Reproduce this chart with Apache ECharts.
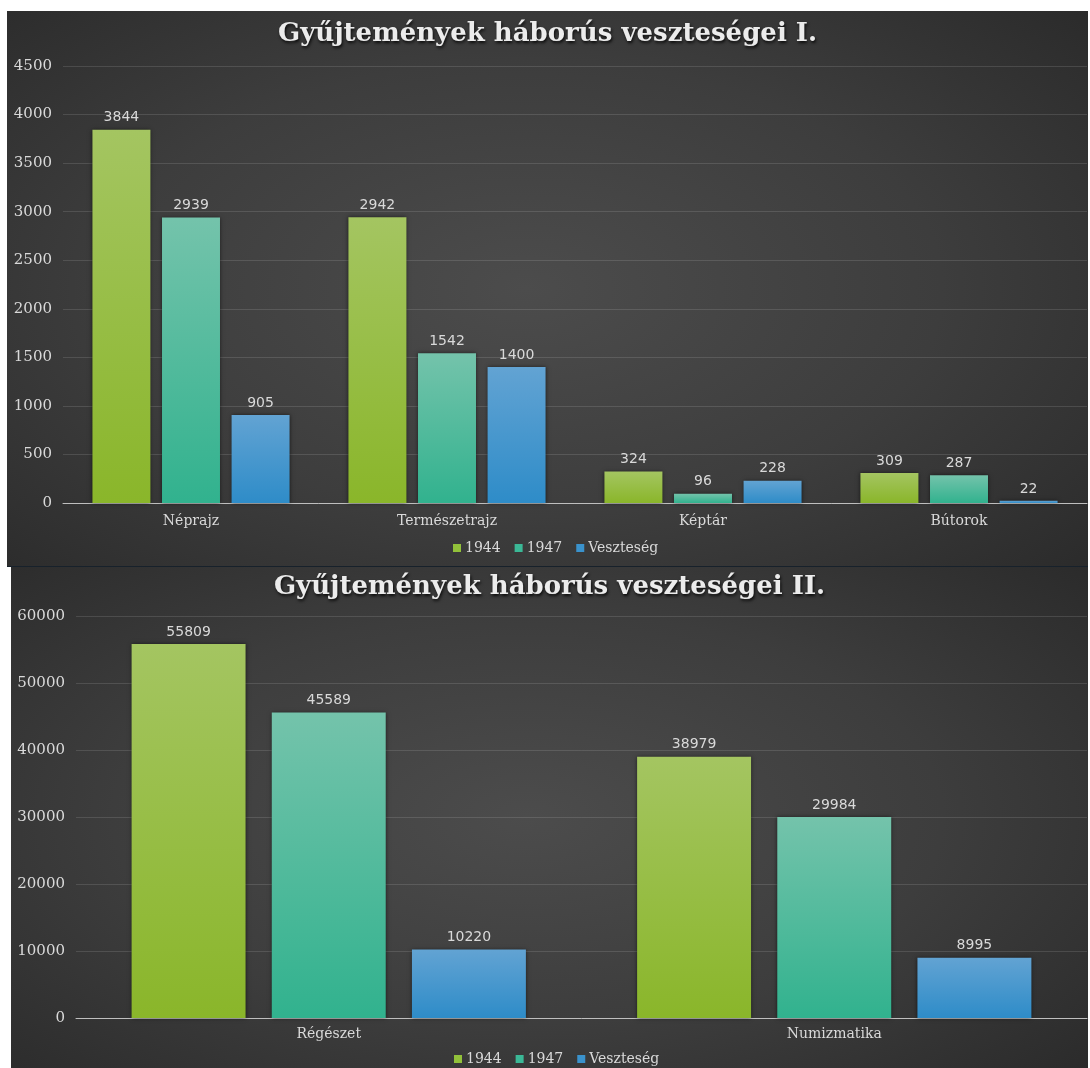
<!DOCTYPE html>
<html>
<head>
<meta charset="utf-8">
<script src="https://cdn.jsdelivr.net/npm/echarts@6/dist/echarts.min.js"></script>
<style>
  html, body { margin: 0; padding: 0; background: #ffffff; width: 1090px; height: 1068px; overflow: hidden; }
  .panel { position: absolute; background: radial-gradient(ellipse 70% 75% at 48% 50%, #4c4c4c 0%, #3d3d3d 55%, #2b2b2b 100%); }
  #c1 { left: 7px; top: 11px; width: 1081px; height: 555px; }
  #sep { position: absolute; left: 7px; top: 566px; width: 1081px; height: 1px; background: #17212b; }
  #c2 { left: 11px; top: 567px; width: 1077px; height: 501px; }
</style>
</head>
<body>
<div id="c1" class="panel"></div>
<div id="sep"></div>
<div id="c2" class="panel"></div>
<script>
// ---- Data ----
var title1 = 'Gyűjtemények háborús veszteségei I.';
var title2 = 'Gyűjtemények háborús veszteségei II.';
var seriesNames = ['1944', '1947', 'Veszteség'];

var categories1 = ['Néprajz', 'Természetrajz', 'Képtár', 'Bútorok'];
var values1944_1 = [3844, 2942, 324, 309];
var values1947_1 = [2939, 1542, 96, 287];
var valuesLoss_1 = [905, 1400, 228, 22];

var categories2 = ['Régészet', 'Numizmatika'];
var values1944_2 = [55809, 38979];
var values1947_2 = [45589, 29984];
var valuesLoss_2 = [10220, 8995];

// ---- Styles ----
var textColor = '#d9d9d9';
var serif = 'DejaVu Serif';
var gradients = [
  ['#a4c561', '#8ab62a'],
  ['#74c3ab', '#31b28e'],
  ['#62a3d3', '#2e8cc8']
];
var legendColors = ['#92c13a', '#3bb896', '#3a92cc'];

function grad(i) {
  return new echarts.graphic.LinearGradient(0, 0, 0, 1, [
    { offset: 0, color: gradients[i][0] },
    { offset: 1, color: gradients[i][1] }
  ]);
}

function makeSeries(arrs, barGap, catGap) {
  return arrs.map(function (arr, i) {
    return {
      name: seriesNames[i],
      type: 'bar',
      data: arr,
      barGap: barGap,
      barCategoryGap: catGap,
      itemStyle: {
        color: grad(i),
        shadowColor: 'rgba(0,0,0,0.55)',
        shadowBlur: 4
      },
      label: {
        show: true,
        position: 'top',
        distance: 5,
        color: textColor,
        fontFamily: 'DejaVu Sans',
        fontSize: 14
      }
    };
  });
}

function makeOption(cfg) {
  return {
    backgroundColor: 'transparent',
    animation: false,
    title: {
      text: cfg.title,
      left: 'center',
      top: cfg.titleTop,
      padding: 0,
      textStyle: {
        color: '#ececec',
        fontFamily: serif,
        fontWeight: 'bold',
        fontSize: 26,
        textShadowColor: 'rgba(0,0,0,0.8)',
        textShadowBlur: 3,
        textShadowOffsetX: 1,
        textShadowOffsetY: 2
      }
    },
    legend: {
      data: seriesNames.map(function (n, i) { return { name: n, itemStyle: { color: legendColors[i] } }; }),
      left: cfg.legendLeft,
      top: cfg.legendTop,
      padding: 0,
      icon: 'rect',
      itemWidth: 8,
      itemHeight: 8,
      itemGap: 14,
      textStyle: { color: textColor, fontFamily: serif, fontSize: 14, padding: [0, 0, 0, -1] }
    },
    grid: { left: cfg.grid[0], top: cfg.grid[1], right: cfg.grid[2], bottom: cfg.grid[3], containLabel: false },
    xAxis: {
      type: 'category',
      data: cfg.categories,
      axisLine: { lineStyle: { color: '#bfbfbf', width: 1 } },
      axisTick: { show: false },
      axisLabel: { color: textColor, fontFamily: serif, fontSize: 14, margin: cfg.labelMargin }
    },
    yAxis: {
      type: 'value',
      min: 0,
      max: cfg.max,
      interval: cfg.interval,
      axisLine: { show: false },
      axisTick: { show: false },
      axisLabel: {
        color: textColor, fontFamily: serif, fontSize: 15, margin: 11,
        formatter: function (v) { return String(v); }
      },
      splitLine: { lineStyle: { color: 'rgba(255,255,255,0.12)', width: 1 } }
    },
    series: makeSeries(cfg.values, cfg.barGap, cfg.catGap)
  };
}

var chart1 = echarts.init(document.getElementById('c1'));
chart1.setOption(makeOption({
  title: title1, titleTop: 10,
  legendLeft: 446, legendTop: 530,
  grid: [56, 55, 1, 63],
  categories: categories1,
  max: 4500, interval: 500,
  labelMargin: 11,
  values: [values1944_1, values1947_1, valuesLoss_1],
  barGap: '20%', catGap: '23%'
}));

var chart2 = echarts.init(document.getElementById('c2'));
chart2.setOption(makeOption({
  title: title2, titleTop: 7,
  legendLeft: 443, legendTop: 485,
  grid: [65, 49, 1, 50],
  categories: categories2,
  max: 60000, interval: 10000,
  labelMargin: 9,
  values: [values1944_2, values1947_2, valuesLoss_2],
  barGap: '23%', catGap: '22%'
}));
</script>
</body>
</html>
